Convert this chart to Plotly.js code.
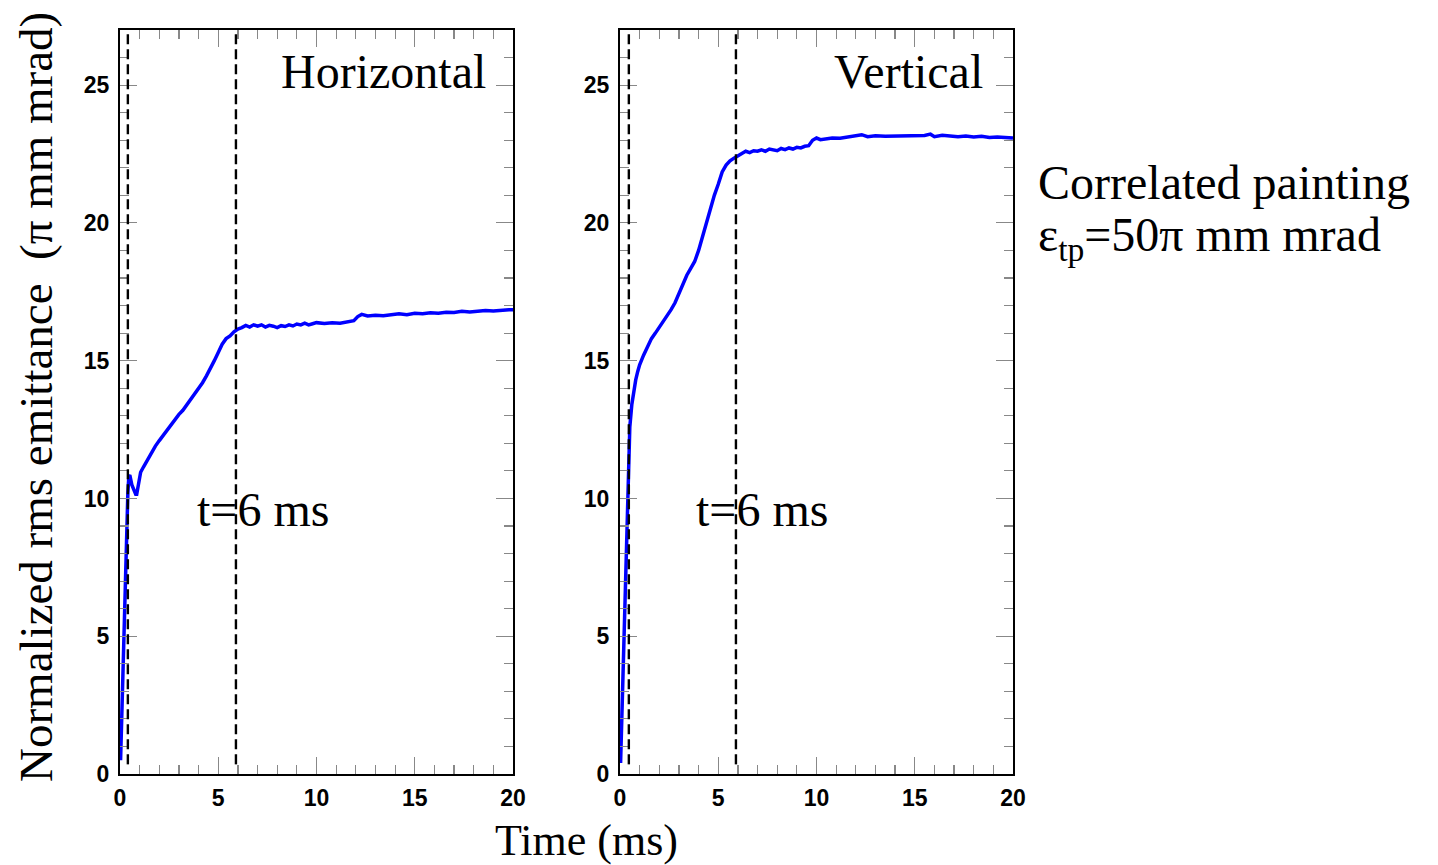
<!DOCTYPE html>
<html>
<head>
<meta charset="utf-8">
<script src="https://cdn.plot.ly/plotly-3.0.1.min.js"></script>
<style>html,body{margin:0;padding:0;background:#fff}#plot{width:1438px;height:865px}</style>
</head>
<body>
<div id="plot"></div>
<script>
// ---- data ----
const hTime = [0.03,0.1,0.2,0.3,0.4,0.45,0.5,0.6,0.7,0.8,0.85,0.95,1.05,1.2,1.4,1.6,1.8,2.0,2.2,2.4,2.6,2.8,3.0,3.2,3.4,3.6,3.8,4.0,4.2,4.4,4.6,4.8,5.0,5.2,5.4,5.6,5.8,6.0,6.2,6.4,6.6,6.8,7.0,7.2,7.4,7.6,7.8,8.0,8.2,8.4,8.6,8.8,9.0,9.2,9.4,9.6,9.8,10.0,10.4,10.8,11.2,11.6,11.9,12.1,12.3,12.6,13.0,13.4,13.8,14.2,14.6,15.0,15.4,15.8,16.2,16.6,17.0,17.4,17.8,18.2,18.6,19.0,19.4,19.8,20.0];
const hEmit = [0.5,2.5,5.3,8.0,10.2,10.8,10.85,10.5,10.3,10.15,10.15,10.6,10.95,11.15,11.4,11.7,11.9,12.1,12.3,12.5,12.65,12.85,13.05,13.2,13.4,13.55,13.75,13.95,14.2,14.45,14.7,15.0,15.3,15.6,15.8,15.9,16.05,16.15,16.2,16.28,16.22,16.3,16.25,16.3,16.22,16.28,16.25,16.2,16.27,16.24,16.3,16.26,16.33,16.3,16.36,16.3,16.34,16.38,16.35,16.38,16.36,16.4,16.45,16.6,16.68,16.62,16.65,16.63,16.68,16.7,16.67,16.72,16.7,16.74,16.72,16.76,16.75,16.79,16.77,16.8,16.82,16.8,16.84,16.85,16.85];

const vTime = [0.03,0.1,0.2,0.3,0.35,0.4,0.45,0.5,0.6,0.7,0.8,0.9,1.0,1.2,1.4,1.6,1.8,2.0,2.2,2.4,2.6,2.8,3.0,3.2,3.4,3.6,3.8,4.0,4.2,4.4,4.6,4.8,5.0,5.2,5.4,5.6,5.8,6.0,6.2,6.4,6.6,6.8,7.0,7.2,7.4,7.6,7.8,8.0,8.2,8.4,8.6,8.8,9.0,9.2,9.4,9.6,9.8,10.0,10.2,10.5,10.8,11.2,11.6,12.0,12.3,12.6,13.0,13.5,14.0,14.5,15.0,15.5,15.8,16.0,16.4,16.8,17.2,17.6,18.0,18.4,18.8,19.2,19.6,20.0];
const vEmit = [0.4,2.5,5.2,7.7,8.7,10.0,11.3,12.6,13.4,13.9,14.3,14.6,14.85,15.2,15.5,15.8,16.0,16.2,16.45,16.6,16.85,17.1,17.45,17.8,18.1,18.35,18.6,19.0,19.5,20.05,20.55,21.0,21.4,21.85,22.1,22.25,22.35,22.45,22.52,22.6,22.55,22.62,22.6,22.65,22.6,22.68,22.64,22.62,22.7,22.66,22.72,22.68,22.74,22.72,22.78,22.8,23.0,23.08,23.02,23.05,23.08,23.07,23.12,23.15,23.2,23.13,23.16,23.14,23.15,23.13,23.15,23.17,23.22,23.13,23.18,23.15,23.13,23.15,23.12,23.14,23.1,23.12,23.1,23.08];

const markerTimesH = [0.4, 5.9];
const markerTimesV = [0.45, 5.9];
const panelLabels = ["Horizontal", "Vertical"];
const timeLabel = "t=6 ms";
const xTickVals = [0,5,10,15,20];
const yTickVals = [0,5,10,15,20,25];

// ---- plot ----
const serif = "Liberation Serif";
const traces = [
  {x: hTime, y: hEmit, xaxis: 'x', yaxis: 'y', mode: 'lines', line: {color: '#0000ff', width: 3.5}, hoverinfo: 'skip'},
  {x: vTime, y: vEmit, xaxis: 'x2', yaxis: 'y2', mode: 'lines', line: {color: '#0000ff', width: 3.5}, hoverinfo: 'skip'}
];

function axisX(domain, anchor) {
  return {
    domain: domain, anchor: anchor, range: [0, 20], autorange: false,
    showgrid: false, zeroline: false, showline: true, linecolor: '#000', linewidth: 2,
    mirror: 'allticks', ticks: 'inside', ticklen: 17, tickwidth: 1.2, tickcolor: '#888',
    tickvals: xTickVals, ticklabelstandoff: 2,
    minor: {dtick: 1, ticklen: 9, tickwidth: 1.2, tickcolor: '#888', ticks: 'inside', showgrid: false},
    tickfont: {family: 'Liberation Sans', size: 23, weight: 'bold', color: '#000'},
    automargin: false, fixedrange: true
  };
}
function axisY(domain, anchor) {
  return {
    domain: domain, anchor: anchor, range: [0, 27], autorange: false,
    showgrid: false, zeroline: false, showline: true, linecolor: '#000', linewidth: 2,
    mirror: 'allticks', ticks: 'inside', ticklen: 17, tickwidth: 1.2, tickcolor: '#888',
    tickvals: yTickVals, ticklabelstandoff: 4,
    minor: {dtick: 1, ticklen: 9, tickwidth: 1.2, tickcolor: '#888', ticks: 'inside', showgrid: false},
    tickfont: {family: 'Liberation Sans', size: 23, weight: 'bold', color: '#000'},
    automargin: false, fixedrange: true
  };
}

const W = 1438, H = 865;
const yDom = [(H - 774) / H, (H - 30) / H];

const shapes = [];
markerTimesH.forEach(t => shapes.push({type: 'line', xref: 'x', yref: 'y', x0: t, x1: t, y0: 0.35, y1: 26.85, line: {color: '#000', width: 2.4, dash: '10px,5px'}}));
markerTimesV.forEach(t => shapes.push({type: 'line', xref: 'x2', yref: 'y2', x0: t, x1: t, y0: 0.35, y1: 26.85, line: {color: '#000', width: 2.4, dash: '10px,5px'}}));

const annFont = {family: serif, size: 48, color: '#000'};
const titleFont = {family: serif, size: 47, color: '#000'};
const xTitleFont = {family: serif, size: 44, color: '#000'};
const annotations = [
  {xref: 'x', yref: 'y', x: 18.75, y: 25.5, text: panelLabels[0], showarrow: false, xanchor: 'right', yanchor: 'middle', font: annFont},
  {xref: 'x2', yref: 'y2', x: 18.6, y: 25.5, text: panelLabels[1], showarrow: false, xanchor: 'right', yanchor: 'middle', font: annFont},
  {xref: 'x', yref: 'y', x: 7.28, y: 9.6, text: timeLabel, showarrow: false, xanchor: 'center', yanchor: 'middle', font: annFont},
  {xref: 'x2', yref: 'y2', x: 7.23, y: 9.6, text: timeLabel, showarrow: false, xanchor: 'center', yanchor: 'middle', font: annFont},
  {xref: 'paper', yref: 'paper', x: 586 / W, y: 1 - 840 / H, text: 'Time (ms)', showarrow: false, xanchor: 'center', yanchor: 'middle', font: xTitleFont},
  {xref: 'paper', yref: 'paper', x: 36 / W, y: 1 - 397 / H, text: 'Normalized rms emittance  (π mm mrad)', textangle: -90, showarrow: false, xanchor: 'center', yanchor: 'middle', font: titleFont},
  {xref: 'paper', yref: 'paper', x: 1036 / W, y: 1 - 182 / H, text: 'Correlated painting', showarrow: false, xanchor: 'left', yanchor: 'middle', font: annFont},
  {xref: 'paper', yref: 'paper', x: 1036 / W, y: 1 - 238 / H, text: 'ε<sub>tp</sub>=50π mm mrad', showarrow: false, xanchor: 'left', yanchor: 'middle', font: annFont}
];

const layout = {
  width: W, height: H,
  margin: {l: 0, r: 0, t: 0, b: 0},
  paper_bgcolor: '#fff', plot_bgcolor: '#fff',
  showlegend: false,
  xaxis: axisX([120 / W, 513 / W], 'y'),
  yaxis: axisY(yDom, 'x'),
  xaxis2: axisX([620 / W, 1013 / W], 'y2'),
  yaxis2: axisY(yDom, 'x2'),
  shapes: shapes,
  annotations: annotations
};

Plotly.newPlot('plot', traces, layout, {displayModeBar: false, staticPlot: true});
</script>
</body>
</html>
